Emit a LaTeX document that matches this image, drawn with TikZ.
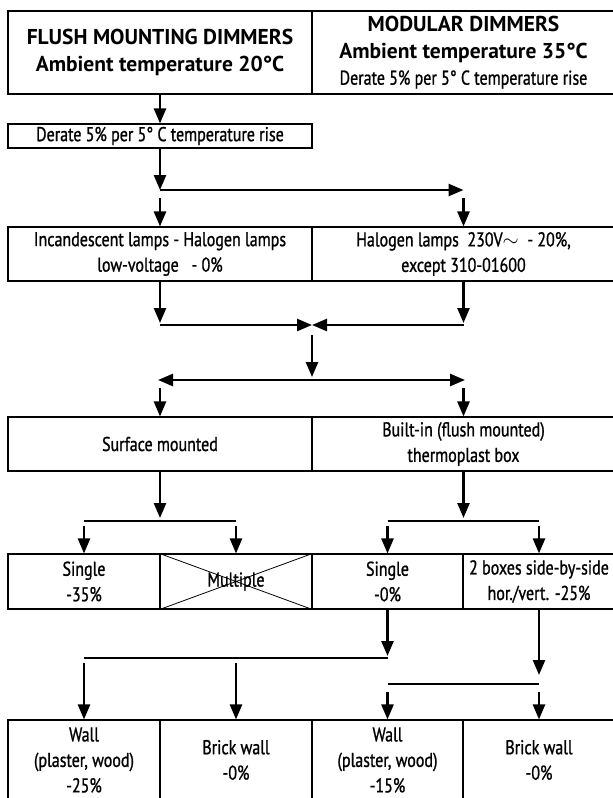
\documentclass[tikz,border=0pt]{standalone}
\usepackage{fontspec}
\setmainfont{PT Sans}[FakeStretch=0.8, FakeBold=1]
\newfontfamily\titlefont{PT Sans}[FakeStretch=1.0]
\usetikzlibrary{arrows.meta}
\begin{document}
\begin{tikzpicture}[x=1pt,y=-1pt,
  cell/.style={draw, line width=1.1pt, inner sep=0pt, align=center, font=\fontsize{20}{25.5}\selectfont},
  titlecell/.style={cell, font=\titlefont\bfseries\fontsize{21.5}{26.5}\selectfont},
  arr/.style={line width=2.5pt, -{Triangle[length=15pt,width=12pt]}},
  bar/.style={line width=2.8pt},
  cross/.style={line width=0.8pt}]
\useasboundingbox (0,0) rectangle (613,798);
\clip (0,0) rectangle (613,798);
% row 1
\node[titlecell, minimum width=304, minimum height=83] (t1) at (160,52.5) {FLUSH MOUNTING DIMMERS\\Ambient temperature 20°C};
\node[titlecell, minimum width=303, minimum height=83] (t2) at (463.5,52.5) {MODULAR DIMMERS\\Ambient temperature 35°C\\{\rmfamily\mdseries\fontsize{20}{25}\selectfont Derate 5\% per 5° C temperature rise}};
\node[cell, minimum width=304, minimum height=24] (der) at (160,136) {Derate 5\% per 5° C temperature rise};
% row 2
\node[cell, minimum width=304, minimum height=54] (r2a) at (160,254) {Incandescent lamps - Halogen lamps\\low-voltage\ \ \ - 0\%};
\node[cell, minimum width=303, minimum height=54] (r2b) at (463.5,254) {Halogen lamps\ \ 230V$\sim$\ \ - 20\%,\\except 310-01600};
% row 3
\node[cell, minimum width=304, minimum height=54] (r3a) at (160,444) {Surface mounted};
\node[cell, minimum width=303, minimum height=54] (r3b) at (463.5,444) {Built-in (flush mounted)\\thermoplast box};
% row 4
\node[cell, minimum width=152, minimum height=55] (s1) at (84,581.5) {Single\\-35\%};
\node[cell, minimum width=152, minimum height=55] (s2) at (236,581.5) {Multiple};
\node[cell, minimum width=151, minimum height=55] (s3) at (387.5,581.5) {Single\\-0\%};
\node[cell, minimum width=152, minimum height=55] (s4) at (539,581.5) {2 boxes side-by-side\\hor./vert. -25\%};
\draw[cross] (s2.north west) -- (s2.south east) (s2.south west) -- (s2.north east);
% row 5
\node[cell, minimum width=152, minimum height=80] (w1) at (84,760) {Wall\\(plaster, wood)\\-25\%};
\node[cell, minimum width=152, minimum height=80] (w2) at (236,760) {Brick wall\\-0\%};
\node[cell, minimum width=151, minimum height=80] (w3) at (387.5,760) {Wall\\(plaster, wood)\\-15\%};
\node[cell, minimum width=152, minimum height=80] (w4) at (539,760) {Brick wall\\-0\%};
% connector points
\coordinate (a1) at (160,190); \coordinate (a2) at (463.5,190);
\coordinate (b1) at (160,198); \coordinate (b2) at (463.5,198);
\coordinate (c1) at (160,323); \coordinate (c2) at (463.5,323);
\coordinate (cl) at (160,325); \coordinate (cr) at (463.5,325); \coordinate (cm) at (312,325);
\coordinate (d0) at (312,335); \coordinate (d1) at (312,377);
\coordinate (e0) at (312,380); \coordinate (el) at (158,380); \coordinate (er) at (465,380);
\coordinate (f1) at (160,388); \coordinate (f2) at (463.5,388);
\coordinate (g1) at (160,518); \coordinate (g2) at (463.5,518);
\coordinate (h1l) at (84,521); \coordinate (h1r) at (236,521);
\coordinate (h2l) at (387.5,521); \coordinate (h2r) at (539,521);
\coordinate (i1) at (84,526); \coordinate (i2) at (236,526);
\coordinate (i3) at (387.5,526); \coordinate (i4) at (539,526);
\coordinate (j3) at (387.5,656); \coordinate (jl) at (84,658); \coordinate (jr) at (387.5,658);
\coordinate (k1) at (84,663); \coordinate (k2) at (236,663);
\coordinate (j4) at (539,675); \coordinate (ll) at (387.5,684); \coordinate (lr) at (539,684);
\coordinate (m3) at (387.5,692); \coordinate (m4) at (539,692);
% connectors
\draw[arr] (t1.south) -- (der.north);
\draw[arr] (der.south) -- (a1);
\draw[arr] (a1) -- (a2);
\draw[arr] (b1) -- (r2a.north);
\draw[arr] (b2) -- (r2b.north);
\draw[arr] (r2a.south) -- (c1);
\draw[arr] (r2b.south) -- (c2);
\draw[arr] (cl) -- (cm);
\draw[arr] (cr) -- (cm);
\draw[arr] (d0) -- (d1);
\draw[arr] (e0) -- (el);
\draw[arr] (e0) -- (er);
\draw[arr] (f1) -- (r3a.north);
\draw[arr] (f2) -- (r3b.north);
\draw[arr] (r3a.south) -- (g1);
\draw[arr] (r3b.south) -- (g2);
\draw[bar] (h1l) -- (h1r);
\draw[bar] (h2l) -- (h2r);
\draw[arr] (i1) -- (s1.north);
\draw[arr] (i2) -- (s2.north);
\draw[arr] (i3) -- (s3.north);
\draw[arr] (i4) -- (s4.north);
\draw[arr] (s3.south) -- (j3);
\draw[bar] (jl) -- (jr);
\draw[arr] (k1) -- (w1.north);
\draw[arr] (k2) -- (w2.north);
\draw[arr] (s4.south) -- (j4);
\draw[bar] (ll) -- (lr);
\draw[arr] (m3) -- (w3.north);
\draw[arr] (m4) -- (w4.north);
\end{tikzpicture}
\end{document}
